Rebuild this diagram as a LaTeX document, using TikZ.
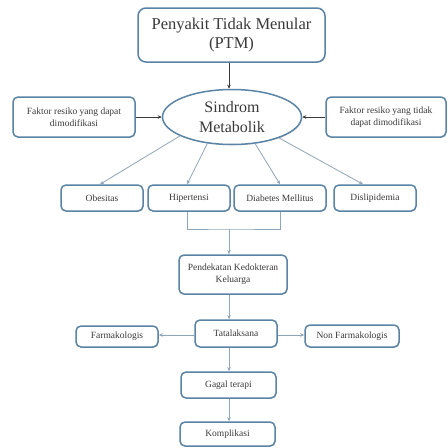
\documentclass[tikz,border=0pt]{standalone}
\usepackage{fontspec}
\setmainfont{Liberation Serif}
\usetikzlibrary{shapes.geometric,arrows.meta,calc,shadows}
\definecolor{bord}{HTML}{5A84A5}
\definecolor{conn}{HTML}{8FA6BA}
\definecolor{txt}{HTML}{3A3A3A}
\tikzset{
  box/.style={draw=bord, line width=1.5pt, rounded corners=5pt, fill=white, text=txt,
    align=center, inner sep=0pt, font=\fontsize{9.5}{12}\selectfont,
    drop shadow={shadow xshift=0.8pt, shadow yshift=-0.8pt, opacity=0.25, fill=gray}},
  bigbox/.style={box, font=\fontsize{16.5}{19}\selectfont, rounded corners=8pt},
  ell/.style={draw=bord, line width=1.5pt, ellipse, fill=white, text=txt, align=center,
    inner sep=0pt, font=\fontsize{16}{20}\selectfont,
    drop shadow={shadow xshift=0.8pt, shadow yshift=-0.8pt, opacity=0.25, fill=gray}},
  lite/.style={draw=conn, line width=0.8pt, -{Stealth[length=4pt,width=3.5pt]}},
  liten/.style={draw=conn, line width=0.8pt},
  dark/.style={draw=txt, line width=0.8pt, -{Stealth[length=4pt,width=3.5pt]}}
}
\begin{document}
\begin{tikzpicture}[x=1pt,y=-1pt]
\useasboundingbox (0,0) rectangle (448,448);
\fill[white] (0,0) rectangle (448,448);
\coordinate (spine) at (229,0);
% nodes
\node[bigbox, minimum width=187pt, minimum height=54pt] (ptm) at (231.5,35) {Penyakit Tidak Menular\\(PTM)};
\node[ell, minimum width=139pt, minimum height=55pt] (sm) at (232,117) {Sindrom\\Metabolik};
\node[box, minimum width=122pt, minimum height=40pt] (fl) at (74,117) {Faktor resiko yang dapat\\dimodifikasi};
\node[box, minimum width=120pt, minimum height=40pt] (fr) at (386,117) {Faktor resiko yang tidak\\dapat dimodifikasi};
\node[box, minimum width=82pt, minimum height=26pt] (ob) at (102,198) {Obesitas};
\node[box, minimum width=82pt, minimum height=26pt] (hip) at (189,198) {Hipertensi};
\node[box, minimum width=92pt, minimum height=26pt] (dm) at (280,198) {Diabetes Mellitus};
\node[box, minimum width=82pt, minimum height=26pt] (dis) at (375,198) {Dislipidemia};
\node[box, minimum width=108pt, minimum height=39pt] (pkk) at (233,274.5) {Pendekatan Kedokteran\\Keluarga};
\node[box, minimum width=82pt, minimum height=27pt] (tat) at (236,333.5) {Tatalaksana};
\node[box, minimum width=82pt, minimum height=21pt] (farm) at (117,336.5) {Farmakologis};
\node[box, minimum width=94pt, minimum height=22pt] (nonf) at (352,336) {Non Farmakologis};
\node[box, minimum width=95pt, minimum height=26pt] (gagal) at (228.5,385) {Gagal terapi};
\node[box, minimum width=95pt, minimum height=24pt] (komp) at (227.5,434) {Komplikasi};
% connectors
\draw[dark] (ptm.south -| spine) -- (sm.north -| spine);
\draw[dark] (fl.east) -- (sm.west);
\draw[dark] (fr.west) -- (sm.east);
\draw[lite] (sm.200) -- ([xshift=-2pt]ob.north);
\draw[lite] (sm.227) -- ([xshift=-2pt]hip.north);
\draw[lite] (sm.311) -- (dm.north);
\draw[lite] (sm.336) -- ([xshift=-12pt]dis.north);
\coordinate (mj) at (229,229);
\draw[liten] ([xshift=-2pt]hip.south) |- (mj) -| (dm.south);
\draw[lite] (mj) -- (pkk.north -| spine);
\draw[lite] (pkk.south -| spine) -- (tat.north -| spine);
\draw[lite] ([yshift=-1.5pt]tat.west) -- ([yshift=-1.5pt]tat.west -| farm.east);
\draw[lite] ([yshift=-1.5pt]tat.east) -- ([yshift=-1.5pt]tat.east -| nonf.west);
\draw[lite] (tat.south -| spine) -- (gagal.north -| spine);
\draw[lite] (gagal.south -| spine) -- (komp.north -| spine);
\end{tikzpicture}
\end{document}
